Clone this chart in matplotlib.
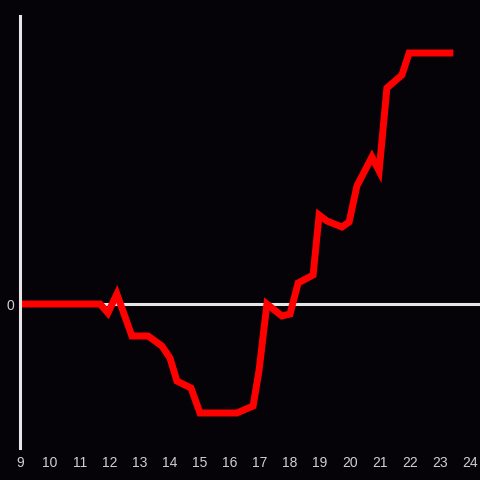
import numpy as np
import matplotlib
matplotlib.use('Agg')
import matplotlib.pyplot as plt

plt.rcParams['font.family'] = ['Liberation Sans', 'DejaVu Sans']

# hour of day and value (arbitrary units, 0 = baseline)
hours = [9.0, 11.67, 11.93, 12.23, 12.73, 13.27, 13.73, 14.0, 14.23, 14.7,
         15.0, 16.23, 16.77, 16.97, 17.23, 17.73, 18.0, 18.27, 18.77, 18.97,
         19.23, 19.73, 19.97, 20.23, 20.73, 20.97, 21.23, 21.73, 21.97, 23.33]
values = [0, 0, -9, 10, -32, -32, -42, -54, -77, -84,
          -109, -109, -102, -66, 0, -12, -10, 21, 29, 89,
          83, 77, 82, 118, 147, 133, 216, 229, 251, 251]
xticks = list(range(9, 25))
bg = '#050307'

fig = plt.figure(figsize=(4.8, 4.8), dpi=100, facecolor=bg)
ax = fig.add_axes([20 / 480, 32 / 480, 460 / 480, 432 / 480])
ax.set_facecolor(bg)

ax.axhline(0, color='#e6e6e6', lw=2.2, zorder=1)
ax.plot(hours, values, color='#ff0000', lw=5, solid_joinstyle='miter', zorder=2)

ax.set_xlim(9, 24.333)
ax.set_ylim(-144, 288)
ax.set_xticks(xticks)
ax.set_yticks([0])
ax.tick_params(length=0, colors='#d0d0d0', labelsize=10, pad=6)
ax.tick_params(axis='y', pad=4)
for s in ['top', 'right', 'bottom']:
    ax.spines[s].set_visible(False)
ax.spines['left'].set_color('#e6e6e6')
ax.spines['left'].set_linewidth(2.2)

fig.savefig('out.png', dpi=100, facecolor=bg)
